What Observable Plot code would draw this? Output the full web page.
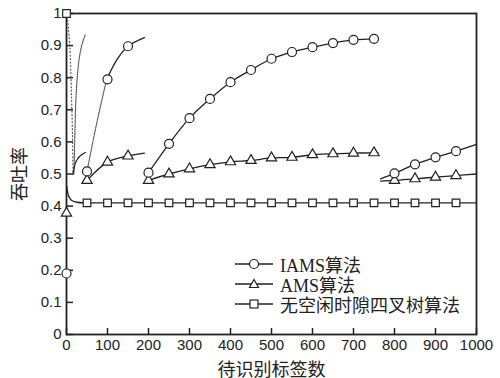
<!DOCTYPE html>
<html><head><meta charset="utf-8">
<script src="https://cdn.jsdelivr.net/npm/d3@7"></script>
<script src="https://cdn.jsdelivr.net/npm/@observablehq/plot@0.6"></script>
<style>
body{margin:0;background:#fff}
#wrap{position:relative;width:500px;height:378px;overflow:hidden}
#legend{position:absolute;left:235px;top:254px;font-family:'Liberation Serif','Noto Sans CJK SC',serif;font-size:18px;color:#222}
#legend .row{height:20px;display:flex;align-items:center;white-space:nowrap}
#legend svg{margin-right:7px}
</style></head><body><div id="wrap"></div>
<script>
// ---------- data ----------
const xTicks = [0,100,200,300,400,500,600,700,800,900,1000];
const yTicks = [0,0.1,0.2,0.3,0.4,0.5,0.6,0.7,0.8,0.9,1];
const yTickLabels = ["0","0.1","0.2","0.3","0.4","0.5","0.6","0.7","0.8","0.9","1"];
const seriesNames = ["IAMS算法","AMS算法","无空闲时隙四叉树算法"];

// IAMS curves
const iamsHeadDotted = [[18,0.5],[20,0.6],[22,0.7],[25,0.78],[30,0.85],[37,0.9],[46,0.935]];
const iamsRiseDotted = [[50,0.508],[74,0.66],[98,0.795]];
const iamsRiseSolid  = [[98,0.795],[125,0.86],[150,0.898],[190,0.925]];
const iamsMain = [[200,0.504],[250,0.594],[300,0.674],[350,0.734],[400,0.786],[450,0.824],[500,0.859],[550,0.880],[600,0.895],[650,0.908],[700,0.918],[750,0.921],[760,0.922]];
const iamsTail = [[766,0.485],[800,0.502],[850,0.530],[900,0.552],[950,0.571],[1000,0.592]];
const iamsMarkers = [[0,0.19],[50,0.508],[100,0.795],[150,0.898],[200,0.504],[250,0.594],[300,0.674],[350,0.734],[400,0.786],[450,0.824],[500,0.859],[550,0.880],[600,0.895],[650,0.908],[700,0.918],[750,0.921],[800,0.502],[850,0.530],[900,0.552],[950,0.571]];

// AMS curves
const amsHeadDashed = [[16,0.5],[22,0.535],[32,0.555],[46,0.567]];
const amsRise = [[50,0.48],[100,0.537],[150,0.556],[190,0.565]];
const amsMain = [[200,0.48],[250,0.50],[300,0.516],[350,0.529],[400,0.538],[450,0.542],[500,0.550],[550,0.552],[600,0.560],[650,0.563],[700,0.565],[750,0.566],[760,0.566]];
const amsTail = [[766,0.478],[800,0.480],[850,0.485],[900,0.490],[950,0.495],[1000,0.50]];
const amsMarkers = [[0,0.378],[50,0.48],[100,0.537],[150,0.556],[200,0.48],[250,0.50],[300,0.516],[350,0.529],[400,0.538],[450,0.542],[500,0.550],[550,0.552],[600,0.560],[650,0.563],[700,0.565],[750,0.566],[800,0.480],[850,0.485],[900,0.490],[950,0.495]];

// quad-tree curves
const qtHeadDotted = [[2,0.99],[8,0.9],[12,0.75],[15,0.6],[16,0.5]];
const qtMain = [[1,0.46],[5,0.432],[12,0.418],[25,0.412],[50,0.41],[100,0.41],[200,0.41],[300,0.41],[400,0.41],[500,0.41],[600,0.41],[700,0.41],[800,0.41],[900,0.41],[1000,0.41]];
const qtMarkers = [[0,1.0],[50,0.41],[100,0.41],[150,0.41],[200,0.41],[250,0.41],[300,0.41],[350,0.41],[400,0.41],[450,0.41],[500,0.41],[550,0.41],[600,0.41],[650,0.41],[700,0.41],[750,0.41],[800,0.41],[850,0.41],[900,0.41],[950,0.41]];

// ---------- chart ----------
const ink = "#222";
const X = d => d[0], Y = d => d[1];
const ln = (data, extra={}) => Plot.line(data, {x: X, y: Y, curve: "catmull-rom", stroke: ink, strokeWidth: 1.3, ...extra});
const dots = (data, symbol, r) => Plot.dot(data, {x: X, y: Y, symbol, r, stroke: ink, strokeWidth: 1.2, fill: "white"});
const tickFont = "'Liberation Sans Narrow','Liberation Sans',Arial,sans-serif";
const cjkFont = "'Liberation Serif','Noto Sans CJK SC',serif";

const chart = Plot.plot({
  width: 500, height: 378,
  marginLeft: 66, marginRight: 24, marginTop: 13, marginBottom: 44,
  x: {domain: [0, 1000]},
  y: {domain: [0, 1]},
  style: {fontFamily: tickFont, fontSize: "15px", color: ink, background: "white"},
  marks: [
    Plot.axisX({ticks: xTicks, tickFormat: d => String(d), tickSize: -6, tickPadding: 11, label: null, fontSize: 15, strokeWidth: 1.5}),
    Plot.axisY({ticks: yTicks, tickFormat: (d, i) => yTickLabels[i], tickSize: -7, tickPadding: 12, label: null, fontSize: 15, strokeWidth: 1.5}),
    Plot.frame({stroke: ink, strokeWidth: 1.8}),
    ln(qtHeadDotted, {strokeDasharray: "1,2.5", strokeWidth: 1.2, stroke: "#555"}),
    ln(iamsHeadDotted, {strokeDasharray: "1,1.2", strokeWidth: 1.2, stroke: "#555"}),
    ln(amsHeadDashed, {strokeDasharray: "4,1"}),
    ln(iamsRiseDotted, {strokeDasharray: "1,1.2", strokeWidth: 1.2, stroke: "#555"}),
    ln(iamsRiseSolid),
    ln(iamsMain),
    ln(iamsTail),
    ln(amsRise),
    ln(amsMain),
    ln(amsTail),
    ln(qtMain),
    dots(qtMarkers, "square", 4.3),
    dots(amsMarkers, "triangle", 3.8),
    dots(iamsMarkers, "circle", 4.5),
    Plot.text(["待识别标签数"], {frameAnchor: "bottom", textAnchor: "middle", dy: 41, fontSize: 18, fontFamily: cjkFont, fill: ink}),
    Plot.text(["吞吐率"], {frameAnchor: "left", textAnchor: "middle", lineAnchor: "middle", dx: -46, rotate: -90, fontSize: 18, fontFamily: cjkFont, fill: ink})
  ]
});
const wrap = document.getElementById("wrap");
wrap.appendChild(chart);

// legend (HTML overlay)
const sym = {
  "circle": '<circle cx="19" cy="8" r="4.5" fill="white" stroke="#222" stroke-width="1.2"/>',
  "triangle": '<path d="M19,3.5 L23.5,11.5 L14.5,11.5 Z" fill="white" stroke="#222" stroke-width="1.2"/>',
  "square": '<rect x="15" y="4" width="8" height="8" fill="white" stroke="#222" stroke-width="1.2"/>'
};
const legend = document.createElement("div");
legend.id = "legend";
["circle","triangle","square"].forEach((s, i) => {
  const row = document.createElement("div");
  row.className = "row";
  row.innerHTML = `<svg width="38" height="16"><line x1="0" x2="38" y1="8" y2="8" stroke="#222" stroke-width="1.3"/>${sym[s]}</svg><span>${seriesNames[i]}</span>`;
  legend.appendChild(row);
});
wrap.appendChild(legend);
</script>
</body></html>
